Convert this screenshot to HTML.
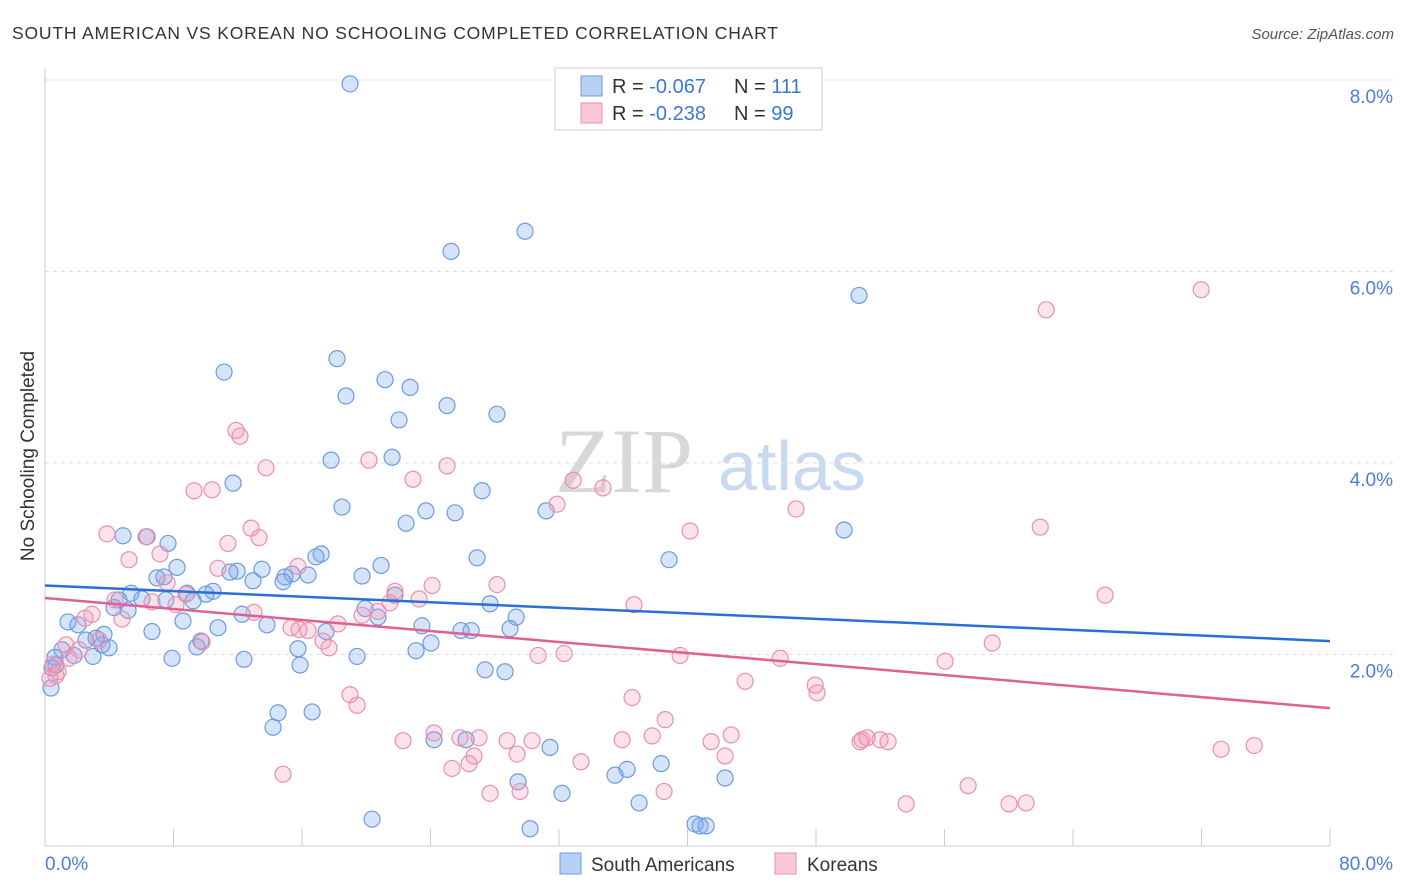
<!DOCTYPE html>
<html><head><meta charset="utf-8"><style>
body{margin:0;background:#fff;font-family:"Liberation Sans",sans-serif;}
#wrap{position:relative;width:1406px;height:892px;overflow:hidden;}
</style></head><body>
<div id="wrap">
<svg id="svg" width="1406" height="892" xmlns="http://www.w3.org/2000/svg">
<text x="12" y="39" font-size="17.5" fill="#333" textLength="766" lengthAdjust="spacing">SOUTH AMERICAN VS KOREAN NO SCHOOLING COMPLETED CORRELATION CHART</text>
<text x="1394" y="39" font-size="15" fill="#555" font-style="italic" text-anchor="end">Source: ZipAtlas.com</text>
<text x="34" y="456" font-size="19" fill="#333" text-anchor="middle" transform="rotate(-90 34 456)">No Schooling Completed</text>
<g>
<text x="555" y="492" font-size="92" fill="#d8d8d8" font-family="Liberation Serif,serif">ZIP</text>
<text x="718" y="490" font-size="70" fill="#c8daf0">atlas</text>
</g>
<g id="grid"></g>
<g id="axes"></g>
<g id="pts"></g>
<g id="lines"></g>
<g>
<rect x="555" y="68" width="267" height="62" fill="#fff" stroke="#ccc"/>
<rect x="581" y="76" width="21" height="20" fill="#b8d0f4" stroke="#6c9be0"/>
<rect x="581" y="103" width="21" height="20" fill="#f8c8d8" stroke="#e890b0"/>
<text x="612" y="93" font-size="20" fill="#333">R = <tspan fill="#3a78d8">-0.067</tspan></text>
<text x="734" y="93" font-size="20" fill="#333">N = <tspan fill="#3a78d8">111</tspan></text>
<text x="612" y="120" font-size="20" fill="#333">R = <tspan fill="#3a78d8">-0.238</tspan></text>
<text x="734" y="120" font-size="20" fill="#333">N = <tspan fill="#3a78d8">99</tspan></text>
</g>
<g>
<rect x="560" y="853" width="21" height="21" fill="#b8d0f4" stroke="#6c9be0"/>
<text x="591" y="871" font-size="19" fill="#333">South Americans</text>
<rect x="775" y="853" width="21" height="21" fill="#f8c8d8" stroke="#e890b0"/>
<text x="807" y="871" font-size="19" fill="#333">Koreans</text>
</g>
</svg>
</div>
<script>
const yTicks=[2,4,6,8];
const xTickLabels=["0.0%","80.0%"];
const blueX=[18.99,29.89,25.28,50.68,11.15,18.18,21.17,22.73,18.74,25.03,28.14,22.04,17.81,21.61,11.71,27.21,18.49,23.72,25.53,22.48,31.20,49.75,4.86,6.35,7.66,17.19,16.87,26.90,38.85,20.92,8.22,6.97,7.41,13.51,11.96,11.52,15.38,16.38,19.74,12.95,14.94,14.82,10.46,10.02,8.84,5.35,6.04,4.61,4.30,5.17,9.22,7.53,12.27,8.59,13.82,19.93,20.73,21.79,27.71,29.33,23.47,28.95,1.43,2.05,6.66,10.77,17.50,25.90,26.53,3.67,3.18,2.55,3.55,9.71,9.46,3.99,24.03,23.10,15.75,1.06,2.99,1.81,0.62,7.91,12.39,19.43,15.88,27.40,28.64,0.44,0.68,14.51,16.63,14.20,24.22,26.21,31.44,38.36,36.24,35.49,42.34,29.45,32.19,36.99,20.36,30.20,40.47,40.78,41.16,0.37];
const blueY=[7.96,6.42,6.21,5.75,4.95,5.09,4.87,4.79,4.70,4.60,4.51,4.45,4.03,4.06,3.79,3.71,3.54,3.50,3.48,3.37,3.50,3.30,3.24,3.23,3.16,3.05,3.02,3.01,2.99,2.93,2.91,2.80,2.81,2.89,2.87,2.86,2.84,2.83,2.82,2.77,2.81,2.76,2.66,2.63,2.64,2.64,2.58,2.57,2.49,2.46,2.56,2.57,2.42,2.35,2.31,2.48,2.39,2.62,2.53,2.39,2.30,2.27,2.34,2.31,2.24,2.28,2.24,2.25,2.25,2.21,2.17,2.15,2.10,2.14,2.08,2.07,2.12,2.04,2.06,2.05,1.98,1.99,1.97,1.96,1.95,1.98,1.89,1.84,1.82,1.86,1.89,1.39,1.40,1.24,1.11,1.11,1.03,0.86,0.80,0.74,0.71,0.67,0.55,0.45,0.28,0.18,0.23,0.21,0.21,1.65];
const pinkX=[71.98,62.33,11.89,12.14,20.17,13.76,25.03,22.91,32.88,34.74,9.28,10.40,31.88,46.76,61.96,40.16,3.86,6.29,12.83,11.39,13.33,5.23,7.16,15.75,10.77,7.60,21.79,24.10,28.14,66.00,4.36,6.66,8.16,8.78,23.29,21.48,36.67,2.49,4.79,2.93,13.01,19.74,20.73,15.82,16.38,18.24,15.32,9.78,17.31,17.68,3.36,1.31,2.12,1.49,0.50,0.81,0.68,0.31,30.70,32.32,39.54,58.97,45.77,56.04,43.59,47.95,48.07,18.99,19.43,36.55,38.61,24.22,25.84,27.02,22.29,28.77,30.32,35.93,37.80,42.72,41.47,42.34,50.87,51.18,51.99,52.49,50.75,29.39,33.37,26.71,25.34,26.40,14.82,73.22,75.28,57.47,38.54,29.58,27.71,53.61,60.02,61.08];
const pinkY=[5.81,5.60,4.34,4.28,4.03,3.95,3.97,3.83,3.82,3.74,3.71,3.72,3.57,3.52,3.33,3.29,3.26,3.23,3.32,3.16,3.22,2.99,3.05,2.92,2.90,2.75,2.66,2.72,2.73,2.62,2.57,2.55,2.52,2.63,2.58,2.54,2.52,2.38,2.37,2.42,2.44,2.41,2.45,2.26,2.25,2.32,2.28,2.13,2.14,2.07,2.15,2.10,2.05,1.96,1.90,1.82,1.78,1.75,1.99,2.01,1.99,2.12,1.96,1.93,1.72,1.68,1.60,1.58,1.47,1.55,1.32,1.18,1.13,1.13,1.10,1.10,1.10,1.11,1.15,1.16,1.09,0.94,1.11,1.13,1.11,1.09,1.09,0.96,0.88,0.94,0.81,0.86,0.75,1.01,1.05,0.63,0.57,0.57,0.55,0.44,0.44,0.45];
const blueTrend=[2.72,2.14];
const pinkTrend=[2.59,1.44];

const NS="http://www.w3.org/2000/svg";
const X0=45,X1=1330,YB=846,PXP=95.75;
const sx=v=>X0+(v/80)*(X1-X0);
const sy=v=>YB-v*PXP;
function mk(tag,attrs,parent){const e=document.createElementNS(NS,tag);for(const k in attrs)e.setAttribute(k,attrs[k]);parent.appendChild(e);return e;}
const grid=document.getElementById('grid'),axes=document.getElementById('axes'),pts=document.getElementById('pts'),lines=document.getElementById('lines');
yTicks.forEach(t=>{
 const l=mk('line',{x1:X0,x2:1393,y1:sy(t),y2:sy(t),stroke:'#ddd','stroke-dasharray':'4,4'},grid);
 
 
 const tx=mk('text',{x:1393,y:sy(t)+23,'font-size':19,fill:'#4a7fd4','text-anchor':'end'},grid);
 tx.textContent=t.toFixed(1)+'%';
 
 
});
const ya=mk('line',{x1:X0,x2:X0,y1:68,y2:YB,stroke:'#ccc'},axes);


const xa=mk('line',{x1:X0,x2:X1,y1:YB,y2:YB,stroke:'#ccc'},axes);


for(let i=0;i<=10;i++){
 const v=i*8;
 const t=mk('line',{x1:sx(v),x2:sx(v),y1:829,y2:YB,stroke:'#ccc'},axes);
 
 
}
[[0,'start',45],[80,'end',1393]].forEach((a,i)=>{
 const tx=mk('text',{x:a[2],y:870,'font-size':19,fill:'#4a7fd4','text-anchor':a[1]},axes);
 tx.textContent=xTickLabels[i];
 
 
});
function dots(xs,ys,fill,stroke,name){
 xs.forEach((x,i)=>{
  const c=mk('circle',{cx:sx(x),cy:sy(ys[i]),r:8,fill:fill,stroke:stroke,'stroke-width':1.2},pts);
  
  
 });
}
dots(blueX,blueY,'rgba(120,165,235,0.3)','#6c9be0','south-american-point');
dots(pinkX,pinkY,'rgba(245,150,180,0.28)','#e890b0','korean-point');
const bl=mk('line',{x1:sx(0),y1:sy(blueTrend[0]),x2:sx(80),y2:sy(blueTrend[1]),stroke:'#2a6fd6','stroke-width':2.5},lines);


const pl=mk('line',{x1:sx(0),y1:sy(pinkTrend[0]),x2:sx(80),y2:sy(pinkTrend[1]),stroke:'#e0608f','stroke-width':2.5},lines);


</script>
</body></html>
